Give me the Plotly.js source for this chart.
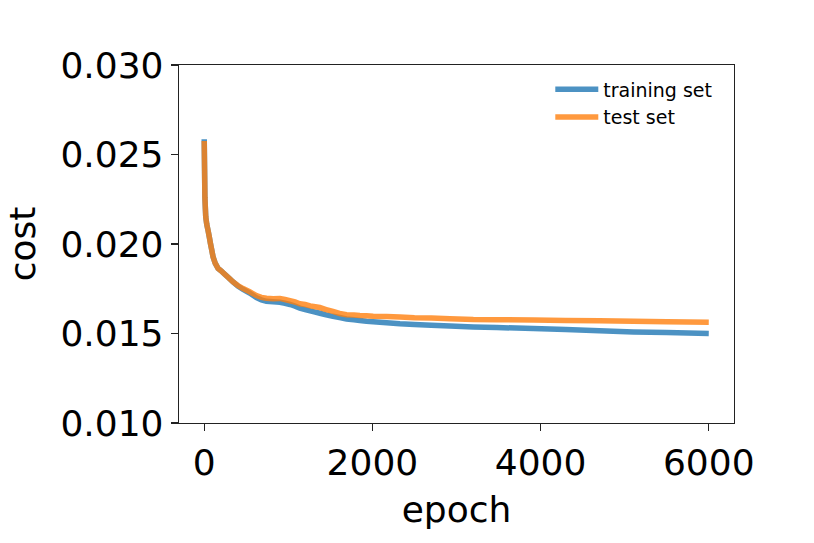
<!DOCTYPE html>
<html>
<head>
<meta charset="utf-8">
<script src="https://cdn.plot.ly/plotly-3.0.1.min.js"></script>
<style>html,body{margin:0;padding:0;background:#fff;} #chart{width:814px;height:543px;}</style>
</head>
<body>
<div id="chart"></div>
<script>
const epochs = [0, 4, 8, 18, 30, 45, 60, 74, 90, 105, 130, 165, 200, 244, 290, 343, 400, 462, 540, 621, 680, 740, 820, 899, 960, 1020, 1080, 1137, 1200, 1260, 1320, 1375, 1450, 1530, 1610, 1693, 1780, 1850, 1930, 2010, 2170, 2327, 2500, 2700, 2922, 3200, 3478, 3912, 4300, 4700, 5105, 5500, 6000];
const trainingCost = [0.02585, 0.02420, 0.02260, 0.02152, 0.02110, 0.02077, 0.02040, 0.02003, 0.01965, 0.01928, 0.01893, 0.01863, 0.01850, 0.01831, 0.01812, 0.01788, 0.01765, 0.01746, 0.01726, 0.01700, 0.01688, 0.01680, 0.01677, 0.01674, 0.01669, 0.01662, 0.01653, 0.01642, 0.01634, 0.01626, 0.01619, 0.01613, 0.01604, 0.01596, 0.01589, 0.01581, 0.01577, 0.01573, 0.01569, 0.01566, 0.01560, 0.01554, 0.01550, 0.01546, 0.01542, 0.01537, 0.01533, 0.01528, 0.01523, 0.01516, 0.01509, 0.01505, 0.01500];
const testCost = [0.02575, 0.02420, 0.02260, 0.02152, 0.02110, 0.02077, 0.02040, 0.02003, 0.01965, 0.01928, 0.01893, 0.01863, 0.01850, 0.01831, 0.01812, 0.01788, 0.01768, 0.01751, 0.01733, 0.01712, 0.01702, 0.01697, 0.01694, 0.01696, 0.01690, 0.01683, 0.01676, 0.01666, 0.01662, 0.01654, 0.01649, 0.01645, 0.01634, 0.01623, 0.01612, 0.01605, 0.01603, 0.01600, 0.01599, 0.01597, 0.01595, 0.01592, 0.01588, 0.01586, 0.01583, 0.01578, 0.01577, 0.01575, 0.01573, 0.01571, 0.01569, 0.01566, 0.01563];
const seriesNames = ['training set', 'test set'];
const yTicks = [0.010, 0.015, 0.020, 0.025, 0.030];
const yTickLabels = ['0.010', '0.015', '0.020', '0.025', '0.030'];
const xTicks = [0, 2000, 4000, 6000];
const xTickLabels = ['0', '2000', '4000', '6000'];

const FONT = 'DejaVu Sans, sans-serif';
const traces = [
  {x: epochs, y: trainingCost, name: seriesNames[0], type: 'scatter', mode: 'lines',
   line: {color: '#1f77b4', width: 5.5, simplify: false}, opacity: 0.8, legendgroup: 'a'},
  {x: epochs, y: testCost, name: seriesNames[1], type: 'scatter', mode: 'lines',
   line: {color: '#ff7f0e', width: 5.5, simplify: false}, opacity: 0.8, legendgroup: 'b'}
];
const axisCommon = {
  showgrid: false, zeroline: false, showline: true, mirror: true,
  linecolor: '#222', linewidth: 1.3, ticks: 'outside', ticklen: 7, tickwidth: 1.3, tickcolor: '#222',
  tickfont: {family: FONT, size: 36, color: '#000'}
};
const layout = {
  width: 814, height: 543,
  margin: {l: 179, r: 80, t: 65, b: 120},
  paper_bgcolor: '#fff', plot_bgcolor: '#fff',
  font: {family: FONT, color: '#000'},
  xaxis: Object.assign({}, axisCommon, {
    range: [-300, 6300], tickmode: 'array', tickvals: xTicks, ticktext: xTickLabels,
    title: {text: 'epoch', font: {family: FONT, size: 36, color: '#000'}, standoff: 15}
  }),
  yaxis: Object.assign({}, axisCommon, {
    range: [0.010, 0.030], tickmode: 'array', tickvals: yTicks, ticktext: yTickLabels,
    title: {text: 'cost', font: {family: FONT, size: 36, color: '#000'}, standoff: 13}
  }),
  showlegend: true,
  legend: {x: 0.669, y: 0.985, xanchor: 'left', yanchor: 'top', bgcolor: 'rgba(0,0,0,0)',
           font: {family: FONT, size: 19, color: '#000'}, tracegroupgap: 0, itemwidth: 43}
};
Plotly.newPlot('chart', traces, layout, {displayModeBar: false, staticPlot: true});
</script>
</body>
</html>
